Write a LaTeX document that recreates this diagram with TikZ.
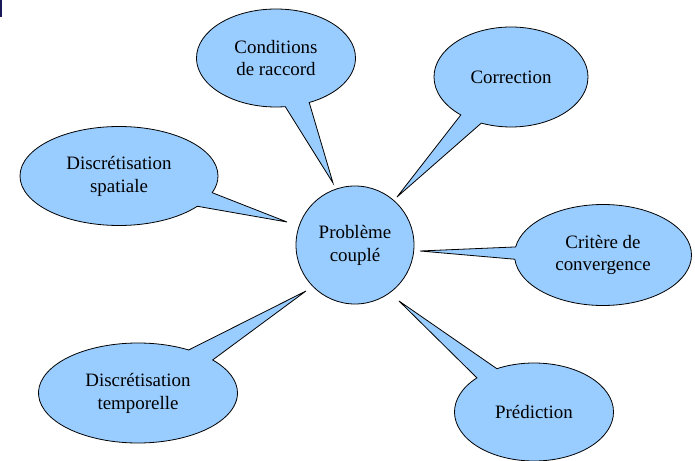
\documentclass[tikz,border=0pt]{standalone}
\usepackage{fontspec}
\setmainfont{Liberation Serif}
\usetikzlibrary{shapes.callouts}
\definecolor{bulle}{HTML}{99CCFF}
\definecolor{marque}{HTML}{1A1A5A}
\begin{document}
\begin{tikzpicture}[
		x=1bp, y=1bp,
		centre/.style={circle, draw, fill=bulle, line width=0.8bp, minimum size=118bp, inner sep=0pt, align=center, font=\fontsize{19}{23}\selectfont},
		bulle/.style={ellipse callout, draw, fill=bulle, line width=0.8bp, inner sep=0pt, align=center, callout pointer arc=18, font=\fontsize{19}{23}\selectfont},
	]
	\useasboundingbox (0,0) rectangle (695,-461);
	\fill[marque] (0,0) rectangle (2,-17);

	\node[centre] (pc) at (355,-245) {Problème\\couplé};

	\coordinate (tip1) at (333,-183);
	\coordinate (tip2) at (397,-197);
	\coordinate (tip3) at (420,-251);
	\coordinate (tip4) at (399,-301);
	\coordinate (tip5) at (306,-291);
	\coordinate (tip6) at (287,-222);

	\node[bulle, minimum width=159bp, minimum height=98bp, callout absolute pointer={(tip1)}] (raccord) at (276,-58) {Conditions\\de raccord};
	\node[bulle, minimum width=154bp, minimum height=100bp, callout absolute pointer={(tip2)}] (correction) at (511,-77) {Correction};
	\node[bulle, minimum width=177bp, minimum height=101bp, callout pointer arc=14, callout absolute pointer={(tip3)}] (critere) at (603,-255) {Critère de\\convergence};
	\node[bulle, minimum width=159bp, minimum height=98bp, callout absolute pointer={(tip4)}] (prediction) at (534,-412) {Prédiction};
	\node[bulle, minimum width=199bp, minimum height=100bp, callout absolute pointer={(tip5)}] (temporelle) at (138,-393) {Discrétisation\\temporelle};
	\node[bulle, minimum width=198bp, minimum height=99bp, callout absolute pointer={(tip6)}] (spatiale) at (119,-176) {Discrétisation\\spatiale};
\end{tikzpicture}
\end{document}
